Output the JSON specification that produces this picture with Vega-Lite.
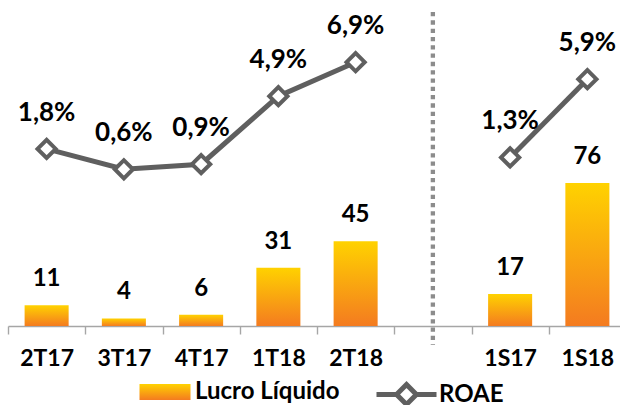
{
  "$schema": "https://vega.github.io/schema/vega-lite/v6.json",
  "width": 612,
  "height": 326,
  "autosize": {"type": "none"},
  "padding": {"left": 8, "top": 0, "right": 0, "bottom": 79},
  "background": "white",
  "config": {
    "view": {"stroke": null},
    "font": "Lato",
    "locale": {"number": {"decimal": ",", "thousands": ".", "grouping": [3], "currency": ["R$", ""]}}
  },
  "data": {
    "values": [
      {"cat": "2T17", "lucro": 11, "roae": 0.018, "grp": "T"},
      {"cat": "3T17", "lucro": 4, "roae": 0.006, "grp": "T"},
      {"cat": "4T17", "lucro": 6, "roae": 0.009, "grp": "T"},
      {"cat": "1T18", "lucro": 31, "roae": 0.049, "grp": "T"},
      {"cat": "2T18", "lucro": 45, "roae": 0.069, "grp": "T"},
      {"cat": "1S17", "lucro": 17, "roae": 0.013, "grp": "S"},
      {"cat": "1S18", "lucro": 76, "roae": 0.059, "grp": "S"}
    ]
  },
  "encoding": {
    "x": {
      "field": "cat",
      "type": "nominal",
      "sort": null,
      "scale": {
        "domain": ["2T17", "3T17", "4T17", "1T18", "2T18", " ", "1S17", "1S18"],
        "range": [0, 618],
        "paddingInner": 0,
        "paddingOuter": 0
      },
      "axis": {
        "title": null,
        "labelAngle": 0,
        "labelFont": "Lato",
        "labelFontWeight": "bold",
        "labelFontSize": 23,
        "labelColor": "#000000",
        "labelPadding": 13,
        "tickBand": "extent",
        "tickSize": 8,
        "tickColor": "#a6a6a6",
        "tickWidth": 1.4,
        "domainColor": "#a6a6a6",
        "domainWidth": 1.4,
        "grid": false
      }
    }
  },
  "layer": [
    {
      "layer": [
        {
          "mark": {
            "type": "bar",
            "width": {"band": 0.57},
            "color": {
              "gradient": "linear",
              "x1": 0, "y1": 0, "x2": 0, "y2": 1,
              "stops": [
                {"offset": 0, "color": "#ffd200"},
                {"offset": 1, "color": "#f47b20"}
              ]
            }
          },
          "encoding": {
            "y": {"field": "lucro", "type": "quantitative", "scale": {"domain": [0, 173.2], "nice": false}, "axis": null}
          }
        },
        {
          "mark": {"type": "text", "baseline": "alphabetic", "dy": -19, "font": "Lato", "fontWeight": "bold", "fontSize": 24, "color": "#000000"},
          "encoding": {
            "y": {"field": "lucro", "type": "quantitative", "scale": {"domain": [0, 173.2], "nice": false}, "axis": null},
            "text": {"field": "lucro", "type": "quantitative"}
          }
        },
        {
          "data": {"values": [{"cat": " "}]},
          "mark": {"type": "rule", "color": "#8c8c8c", "strokeWidth": 4.3, "strokeDash": [4.3, 4]},
          "encoding": {
            "y": {"datum": 166.8, "type": "quantitative", "scale": {"domain": [0, 173.2], "nice": false}, "axis": null},
            "y2": {"datum": -10}
          }
        }
      ]
    },
    {
      "layer": [
        {
          "mark": {"type": "line", "color": "#5f5f5f", "strokeWidth": 5},
          "encoding": {
            "y": {"field": "roae", "type": "quantitative", "scale": {"domain": [-0.0862, 0.1056], "nice": false, "zero": false}, "axis": null},
            "detail": {"field": "grp"}
          }
        },
        {
          "mark": {"type": "point", "shape": "diamond", "filled": true, "fill": "#ffffff", "stroke": "#5f5f5f", "strokeWidth": 4, "size": 330, "opacity": 1},
          "encoding": {
            "y": {"field": "roae", "type": "quantitative", "scale": {"domain": [-0.0862, 0.1056], "nice": false, "zero": false}, "axis": null}
          }
        },
        {
          "mark": {"type": "text", "baseline": "alphabetic", "dy": -28, "font": "Lato", "fontWeight": "bold", "fontSize": 26, "color": "#000000"},
          "encoding": {
            "y": {"field": "roae", "type": "quantitative", "scale": {"domain": [-0.0862, 0.1056], "nice": false, "zero": false}, "axis": null},
            "text": {"field": "roae", "type": "quantitative", "format": ".1%"}
          }
        }
      ]
    },
    {
      "data": {"values": [{"cat": "2T17", "serie": "Lucro Líquido"}]},
      "transform": [{"filter": "false"}],
      "mark": {
        "type": "point",
        "filled": true,
        "opacity": 1,
        "strokeWidth": 0,
        "fill": {
          "gradient": "linear",
          "x1": 0, "y1": 0, "x2": 0, "y2": 1,
          "stops": [{"offset": 0, "color": "#ffd200"}, {"offset": 1, "color": "#f47b20"}]
        }
      },
      "encoding": {
        "shape": {
          "field": "serie",
          "type": "nominal",
          "scale": {"domain": ["Lucro Líquido"], "range": ["M-0.85,-0.267L0.85,-0.267L0.85,0.267L-0.85,0.267Z"]},
          "legend": {
            "title": null,
            "orient": "none",
            "legendX": 127,
            "legendY": 362,
            "symbolSize": 3600,
            "symbolStrokeWidth": 0,
            "labelFont": "Lato",
            "labelFontWeight": "bold",
            "labelFontSize": 24,
            "labelColor": "#000000",
            "labelOffset": 0,
            "padding": 0
          }
        }
      }
    },
    {
      "data": {"values": [{"cat": "2T17", "serie2": "ROAE"}]},
      "transform": [{"filter": "false"}],
      "mark": {"type": "point", "filled": true, "opacity": 1, "fill": "#ffffff", "stroke": "#5f5f5f", "strokeWidth": 5},
      "encoding": {
        "shape": {
          "field": "serie2",
          "type": "nominal",
          "scale": {"domain": ["ROAE"], "range": ["M-1,0L-0.33,0M0.33,0L1,0M0,-0.33L0.33,0L0,0.33L-0.33,0Z"]},
          "legend": {
            "title": null,
            "orient": "none",
            "legendX": 366,
            "legendY": 362,
            "symbolSize": 3600,
            "symbolStrokeWidth": 5,
            "labelFont": "Lato",
            "labelFontWeight": "bold",
            "labelFontSize": 24,
            "labelColor": "#000000",
            "labelOffset": 0,
            "padding": 0
          }
        }
      }
    }
  ],
  "resolve": {"scale": {"y": "independent", "shape": "independent"}, "legend": {"shape": "independent"}}
}
